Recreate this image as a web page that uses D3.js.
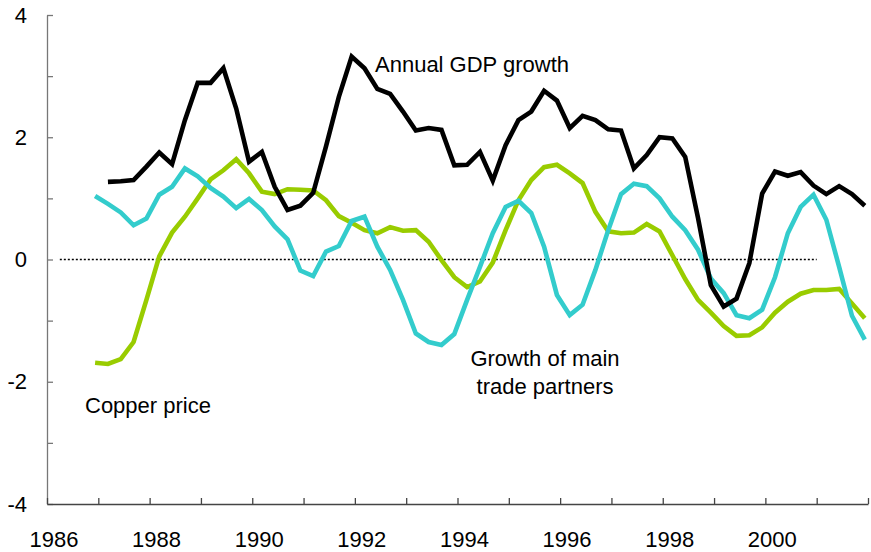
<!DOCTYPE html>
<html>
<head>
<meta charset="utf-8">
<script src="https://cdn.jsdelivr.net/npm/d3@7"></script>
<style>
  body { margin: 0; background: #fff; }
  svg text { font-family: "Liberation Sans", Arial, sans-serif; }
</style>
</head>
<body>
<div id="chart"></div>
<script>
// quarterly series, index 0 = 1986Q1
const gdpStart = 4;      // 1987Q1
const gdp = [
  1.27, 1.28, 1.30, 1.52, 1.75, 1.56, 2.28, 2.89, 2.89, 3.13,
  2.47, 1.60, 1.76, 1.19, 0.81, 0.88, 1.09, 1.85, 2.66, 3.32,
  3.13, 2.79, 2.71, 2.42, 2.11, 2.15, 2.12, 1.54, 1.55, 1.76,
  1.29, 1.87, 2.28, 2.42, 2.76, 2.60, 2.15, 2.35, 2.28, 2.13,
  2.11, 1.49, 1.71, 2.00, 1.98, 1.68, 0.68, -0.42, -0.77, -0.64,
  -0.06, 1.08, 1.44, 1.37, 1.43, 1.21, 1.07, 1.20, 1.07, 0.88
]

const partnersStart = 3; // 1986Q4
const partners = [
  1.04, 0.91, 0.77, 0.56, 0.67, 1.06, 1.19, 1.49, 1.36, 1.17,
  1.03, 0.84, 0.99, 0.81, 0.54, 0.33, -0.18, -0.27, 0.13, 0.22,
  0.63, 0.70, 0.21, -0.17, -0.66, -1.21, -1.35, -1.40, -1.22, -0.66,
  -0.12, 0.43, 0.86, 0.96, 0.76, 0.21, -0.58, -0.91, -0.74, -0.17,
  0.48, 1.07, 1.24, 1.20, 1.00, 0.70, 0.48, 0.16, -0.31, -0.55,
  -0.91, -0.96, -0.82, -0.29, 0.43, 0.86, 1.06, 0.65, -0.12, -0.92,
  -1.31
]

const copperStart = 3;   // 1986Q4
const copper = [
  -1.69, -1.71, -1.63, -1.35, -0.66, 0.05, 0.44, 0.70, 1.00, 1.31,
  1.46, 1.64, 1.41, 1.11, 1.07, 1.15, 1.14, 1.13, 0.97, 0.71,
  0.60, 0.48, 0.43, 0.53, 0.47, 0.48, 0.29, -0.01, -0.29, -0.45,
  -0.36, -0.05, 0.48, 0.97, 1.30, 1.51, 1.55, 1.41, 1.25, 0.78,
  0.46, 0.43, 0.44, 0.58, 0.46, 0.07, -0.32, -0.66, -0.87, -1.09,
  -1.25, -1.24, -1.11, -0.87, -0.69, -0.56, -0.50, -0.50, -0.48, -0.72,
  -0.96
]

const yearTicks = d3.range(1986, 2003)
const yearLabels = [1986, 1988, 1990, 1992, 1994, 1996, 1998, 2000]
const yTicks = [-4, -3, -2, -1, 0, 1, 2, 3, 4]
const zeroLine = [1986.25, 2001.0]

const W = 871, H = 552
const margin = {left: 47, right: 3, top: 15, bottom: 48}

const svg = d3.select("#chart").append("svg")
    .attr("width", W).attr("height", H)

const x = d3.scaleLinear().domain([1986, 2002]).range([margin.left, W - margin.right])
const y = d3.scaleLinear().domain([-4, 4]).range([H - margin.bottom, margin.top])

// quarter index -> position on the year axis
const qx = i => x(1986 + (i + 0.75) / 4)

// zero reference line
svg.append("line")
    .attr("x1", x(zeroLine[0])).attr("x2", x(zeroLine[1]))
    .attr("y1", y(0)).attr("y2", y(0))
    .attr("stroke", "#000").attr("stroke-width", 1.3)
    .attr("stroke-dasharray", "2,2")

// axes
const yAxis = svg.append("g")
    .attr("transform", `translate(${margin.left},0)`)
    .call(d3.axisLeft(y).tickValues(yTicks).tickSize(-6).tickSizeOuter(0).tickPadding(20)
        .tickFormat(d => d % 2 === 0 ? d : ""))
yAxis.selectAll("path, line").attr("stroke", "#777").attr("stroke-width", 1.3)
yAxis.selectAll("text").attr("font-size", 22).attr("fill", "#000")
    .style("font-family", '"Liberation Sans", Arial, sans-serif')

const xAxis = svg.append("g")
    .attr("transform", `translate(0,${y(-4)})`)
    .call(d3.axisBottom(x).tickValues(yearTicks).tickSize(-6).tickSizeOuter(0).tickFormat(""))
xAxis.selectAll("path, line").attr("stroke", "#444").attr("stroke-width", 1.3)

// year labels sit on the first quarter of each year
const xLabels = svg.append("g")
    .attr("transform", `translate(0,${y(-4)})`)
    .call(d3.axisBottom(x).tickValues(yearLabels.map(d => d + 0.125))
        .tickSize(0).tickPadding(27).tickFormat(d => Math.floor(d)))
xLabels.select(".domain").remove()
xLabels.selectAll("text").attr("font-size", 22).attr("fill", "#000")
    .style("font-family", '"Liberation Sans", Arial, sans-serif')

// series
const line = d3.line().x(d => qx(d.i)).y(d => y(d.v))
const series = [
  {values: copper, start: copperStart, color: "#99cc00"},
  {values: partners, start: partnersStart, color: "#33cccc"},
  {values: gdp, start: gdpStart, color: "#000000"}
]
series.forEach(s => {
  svg.append("path")
      .datum(s.values.map((v, k) => ({i: s.start + k, v})))
      .attr("fill", "none")
      .attr("stroke", s.color)
      .attr("stroke-width", 4.6)
      .attr("stroke-linejoin", "miter")
      .attr("stroke-miterlimit", 3)
      .attr("d", line)
})

// annotations
const note = (txt, tx, ty, anchor) => svg.append("text")
    .attr("x", tx).attr("y", ty)
    .attr("font-size", 22).attr("fill", "#000")
    .attr("text-anchor", anchor || "start")
    .text(txt)

note("Annual GDP growth", 375, 72)
note("Copper price", 85, 413)
note("Growth of main", 545, 366, "middle")
note("trade partners", 545, 394, "middle")
</script>
</body>
</html>
